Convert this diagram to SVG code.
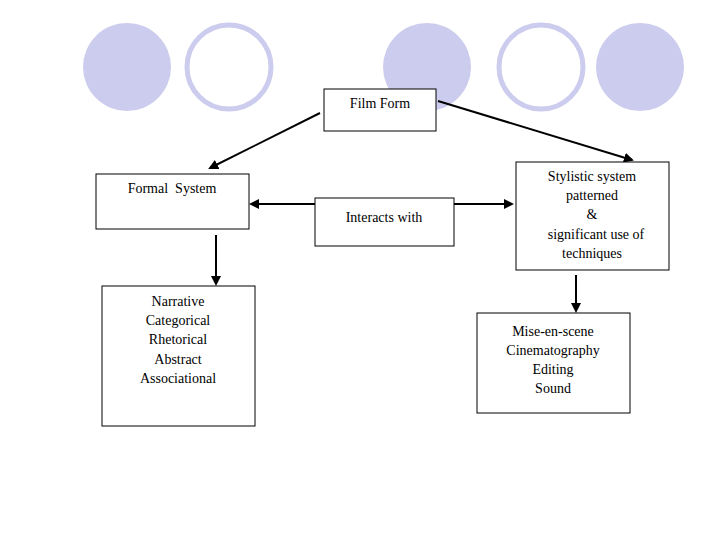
<svg xmlns="http://www.w3.org/2000/svg" width="720" height="540" viewBox="0 0 720 540">
<style>
.b{fill:#fff;stroke:#000;stroke-width:1}
.t{font-family:"Liberation Serif",serif;font-size:14px;text-anchor:middle;fill:#000}
.c{stroke:#000;stroke-width:2;fill:none}
.f{fill:#ccccee}
.o{fill:#fff;stroke:#ccccee;stroke-width:5}
</style>
<defs><marker id="a" markerWidth="10" markerHeight="10" refX="8" refY="5" orient="auto-start-reverse" markerUnits="userSpaceOnUse"><path d="M0,0 L10,5 L0,10 Z" fill="#000"/></marker></defs>
<g id="deco">
<circle class="f" cx="127" cy="67" r="44"/>
<circle class="o" cx="229" cy="67" r="42"/>
<circle class="f" cx="427" cy="67" r="44"/>
<circle class="o" cx="541" cy="67" r="42"/>
<circle class="f" cx="640" cy="67" r="44"/>
</g>
<g id="connectors">
<line class="c" x1="320" y1="113" x2="210" y2="168" marker-end="url(#a)"/>
<line class="c" x1="438" y1="101" x2="632" y2="160" marker-end="url(#a)"/>
<line class="c" x1="251" y1="204" x2="512" y2="204" marker-start="url(#a)" marker-end="url(#a)"/>
<line class="c" x1="216" y1="235" x2="216" y2="284" marker-end="url(#a)"/>
<line class="c" x1="576" y1="275" x2="576" y2="311" marker-end="url(#a)"/>
</g>
<g id="film"><rect class="b" x="324" y="89" width="112" height="42"/><text class="t" x="380" y="108">Film Form</text></g>
<g id="formal"><rect class="b" x="96" y="174" width="153" height="55"/><text class="t" x="172" y="193" xml:space="preserve">Formal  System</text></g>
<g id="interacts"><rect class="b" x="315" y="198" width="139" height="48"/><text class="t" x="384" y="222">Interacts with</text></g>
<g id="stylistic"><rect class="b" x="516" y="162" width="153" height="108"/>
<text class="t" x="592" y="181">Stylistic system</text><text class="t" x="592" y="200">patterned</text><text class="t" x="592" y="219">&amp;</text><text class="t" x="596" y="239">significant use of</text><text class="t" x="592" y="258">techniques</text></g>
<g id="narrative"><rect class="b" x="102" y="286" width="153" height="140"/>
<text class="t" x="178" y="306">Narrative</text><text class="t" x="178" y="325">Categorical</text><text class="t" x="178" y="344">Rhetorical</text><text class="t" x="178" y="364">Abstract</text><text class="t" x="178" y="383">Associational</text></g>
<g id="mise"><rect class="b" x="477" y="313" width="153" height="100"/>
<text class="t" x="553" y="336">Mise-en-scene</text><text class="t" x="553" y="355">Cinematography</text><text class="t" x="553" y="374">Editing</text><text class="t" x="553" y="393">Sound</text></g>
</svg>
